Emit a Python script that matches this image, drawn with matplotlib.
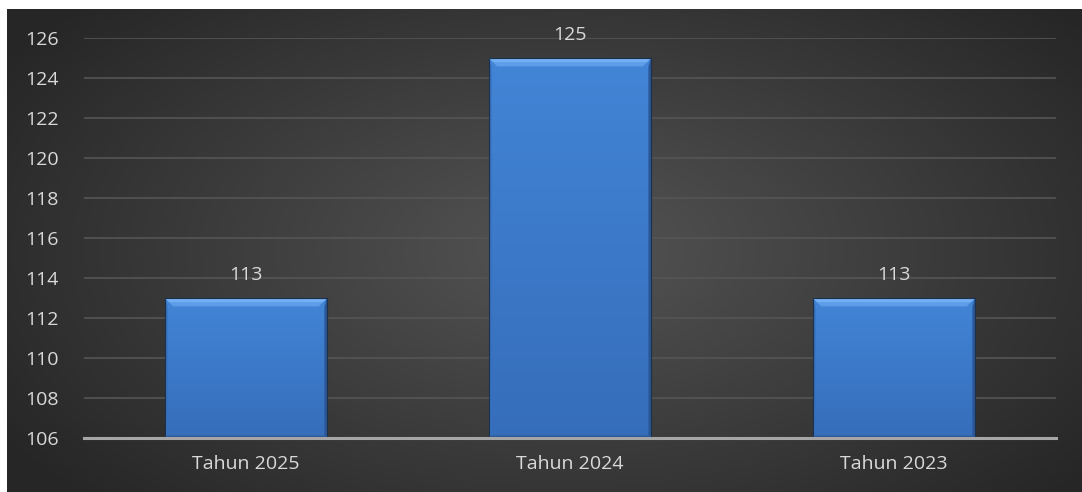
import numpy as np
import matplotlib
matplotlib.use("Agg")
import matplotlib.pyplot as plt
from matplotlib.patches import Polygon

kategori = ["Tahun 2025", "Tahun 2024", "Tahun 2023"]
nilai = [113, 125, 113]
y_ticks = [106, 108, 110, 112, 114, 116, 118, 120, 122, 124, 126]

W, H = 1082, 492
fig = plt.figure(figsize=(W / 100, H / 100), dpi=100, facecolor="white")

# ---- latar belakang gradien radial
bg = fig.add_axes([7 / W, 0, 1 - 7 / W, 1 - 9 / H])
bg.set_axis_off()
yy, xx = np.mgrid[0:1:300j, 0:1:600j]
r = np.sqrt(((xx - 0.52) / 0.62) ** 2 + ((yy - 0.5) / 0.75) ** 2)
r = np.clip(r, 0, 1)
shade = 0.33 - 0.18 * r
img = np.dstack([shade, shade, shade])
bg.imshow(img, aspect="auto", extent=[0, 1, 0, 1], interpolation="bilinear")

# ---- area plot
x0, x1 = 84 / W, 1056 / W
y0, y1 = 1 - 438 / H, 1 - 38 / H
ax = fig.add_axes([x0, y0, x1 - x0, y1 - y0])
ax.patch.set_alpha(0)
ax.set_xlim(-0.5, 2.5)
ax.set_ylim(106, 126)

for v in y_ticks[1:]:
    ax.axhline(v, color="#555555", lw=1.2, zorder=0)
ax.axhline(106, color="#a6a6a6", lw=2.2, zorder=3, clip_on=False)

lebar = 0.5
pos = np.arange(len(kategori))
bars = ax.bar(pos, [v - 106 for v in nilai], bottom=106, width=lebar,
              color="#3f7fcf", lw=0, zorder=2)

# efek bevel pada tiap batang
bx = 0.025
by = 0.42
sx = 0.008
for b in bars:
    l = b.get_x()
    r_ = l + b.get_width()
    t = b.get_y() + b.get_height()
    bt = b.get_y()
    # gradien badan batang
    grad = np.linspace(0, 1, 100).reshape(-1, 1)
    c_top = np.array([0.26, 0.52, 0.84])
    c_bot = np.array([0.21, 0.43, 0.73])
    g = c_bot + (c_top - c_bot) * grad
    ax.imshow(g.reshape(100, 1, 3), extent=[l, r_, bt, t], origin="lower",
              aspect="auto", zorder=2.1)
    ax.add_patch(Polygon([[l, t], [r_, t], [r_ - bx, t - by], [l + bx, t - by]],
                         closed=True, color="#5f9de8", lw=0, zorder=2.2))
    ax.add_patch(Polygon([[l, t], [r_, t], [r_ - bx * 0.5, t - by * 0.5], [l + bx * 0.5, t - by * 0.5]],
                         closed=True, color="#73b0f2", lw=0, zorder=2.25))
    ax.add_patch(Polygon([[l, bt], [l, t], [l + sx, t - by], [l + sx, bt + by * 0.3]],
                         closed=True, color="#3670bc", lw=0, zorder=2.2))
    ax.add_patch(Polygon([[r_, bt], [r_, t], [r_ - sx, t - by], [r_ - sx, bt + by * 0.3]],
                         closed=True, color="#2a5794", lw=0, zorder=2.2))
    ax.add_patch(Polygon([[l, bt], [r_, bt], [r_ - sx, bt + by * 0.3], [l + sx, bt + by * 0.3]],
                         closed=True, color="#2c5a98", lw=0, zorder=2.2))
    ax.add_patch(Polygon([[l, bt], [r_, bt], [r_, t], [l, t]], closed=True,
                         fill=False, edgecolor="#1c2f4d", lw=0.8, zorder=2.3))

for p, v in zip(pos, nilai):
    ax.text(p, v + 1.15, str(v), ha="center", va="center",
            color="#d9d9d9", fontsize=14, family="Open Sans")

ax.set_xticks(pos)
ax.set_xticklabels(kategori, color="#d9d9d9", fontsize=14, family="Open Sans")
ax.set_yticks(y_ticks)
ax.set_yticklabels([str(v) for v in y_ticks], color="#d9d9d9", fontsize=14, family="Open Sans")
ax.tick_params(axis="both", length=0)
ax.tick_params(axis="x", pad=12)
ax.tick_params(axis="y", pad=18)
for s in ax.spines.values():
    s.set_visible(False)
ax.set_xlim(-0.5, 2.5)
ax.set_ylim(106, 126)

fig.savefig("out.png", dpi=100, facecolor="white")
